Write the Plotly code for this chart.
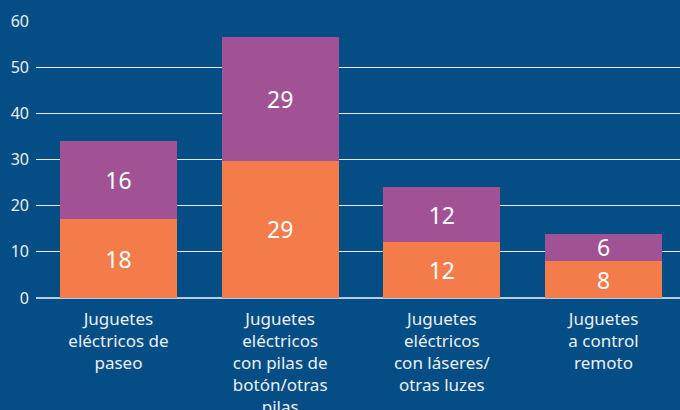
import plotly.graph_objects as go

categories = [
    "Juguetes<br>eléctricos de<br>paseo",
    "Juguetes<br>eléctricos<br>con pilas de<br>botón/otras<br>pilas",
    "Juguetes<br>eléctricos<br>con láseres/<br>otras luzes",
    "Juguetes<br>a control<br>remoto",
]
orange_values = [17.1, 29.7, 12.1, 8.0]
orange_labels = ["18", "29", "12", "8"]
purple_values = [16.9, 26.8, 11.9, 5.9]
purple_labels = ["16", "29", "12", "6"]
y_ticks = [0, 10, 20, 30, 40, 50, 60]

FONT = "Noto Sans"
ORANGE = "#f47c4a"
PURPLE = "#a05295"
BG = "#054d85"

x_idx = list(range(len(categories)))

fig = go.Figure()
for vals, labs, col in [(orange_values, orange_labels, ORANGE),
                        (purple_values, purple_labels, PURPLE)]:
    fig.add_trace(go.Bar(
        x=x_idx, y=vals, text=labs,
        marker=dict(color=col, line=dict(width=0)),
        textposition="inside", insidetextanchor="middle",
        textangle=0, constraintext="none",
        textfont=dict(color="white", size=23, family=FONT),
        width=0.724, hoverinfo="skip",
    ))

fig.update_layout(
    barmode="stack",
    width=680, height=410,
    margin=dict(l=36, r=0, t=21, b=112),
    paper_bgcolor=BG, plot_bgcolor=BG,
    showlegend=False,
    font=dict(family=FONT, color="#eaf0f6"),
    xaxis=dict(
        tickmode="array", tickvals=x_idx, ticktext=categories,
        range=[-0.51, 3.473], showgrid=False, zeroline=False,
        tickfont=dict(size=17, color="#eaf0f6", family=FONT),
        ticks="", ticklabelstandoff=9, automargin=False, tickangle=0, fixedrange=True,
    ),
    yaxis=dict(
        range=[0, 60], tickvals=y_ticks, showgrid=True,
        gridcolor="rgba(255,255,255,0.9)", gridwidth=1.2,
        zeroline=True, zerolinecolor="#b4cbe0", zerolinewidth=1.5,
        tickfont=dict(size=16, color="#eaf0f6", family=FONT),
        ticks="", ticklabelstandoff=6, automargin=False, fixedrange=True,
    ),
)

fig.write_html("out.html", config={"displayModeBar": False})

with open("out.html", encoding="utf-8") as f:
    html = f.read()
html = html.replace("<head>", "<head><style>html,body{margin:0;padding:0;overflow:hidden;}</style>", 1)
with open("out.html", "w", encoding="utf-8") as f:
    f.write(html)
